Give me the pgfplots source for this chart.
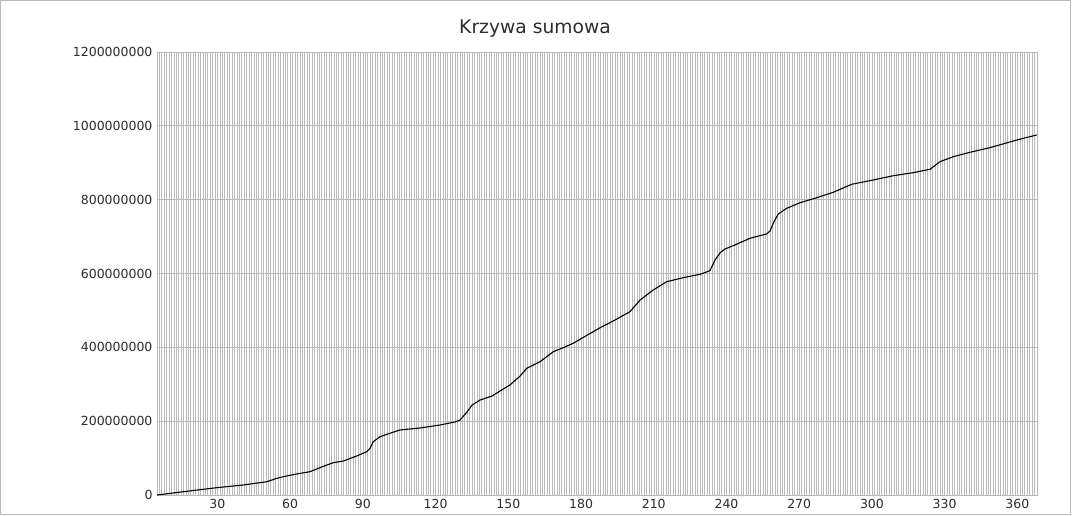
\documentclass[border=0pt]{standalone}
\usepackage{fontspec}
\setmainfont{DejaVu Sans}
\usepackage{pgfplots}
\pgfplotsset{compat=1.18}
\definecolor{gridc}{RGB}{185,185,185}
\definecolor{labc}{RGB}{45,45,45}
\begin{document}
\begin{tikzpicture}[x=1pt,y=1pt]
\useasboundingbox (0,0) rectangle (1072,515);
\draw[gridc, line width=1pt] (0.5,0.5) rectangle (1070,514.5);
\node[font=\fontsize{18.7}{22}\selectfont, text=labc] at (535,486) {Krzywa sumowa};
\begin{axis}[
  at={(157pt,20pt)}, anchor=south west,
  width=880pt, height=443pt, scale only axis,
  xmin=5.5, xmax=368.5, ymin=0, ymax=1200000000,
  xtick={30,60,...,360},
  minor xtick={5.5,6.5,...,368.5},
  ytick={0,200000000,400000000,600000000,800000000,1000000000,1200000000},
  yticklabels={0,200000000,400000000,600000000,800000000,1000000000,1200000000},
  scaled y ticks=false, scaled x ticks=false,
  xminorgrids, ymajorgrids, xmajorgrids=false,
  grid style={gridc, line width=0.9pt},
  minor grid style={gridc, line width=0.9pt},
  axis line style={gridc, line width=0.9pt},
  major tick length=0pt, minor tick length=0pt,
  tick style={draw=none},
  /pgf/number format/assume math mode=true,
  ticklabel style={font=\fontsize{12.5}{15}\selectfont, text=labc},
  yticklabel style={xshift=-1pt},
  xticklabel style={yshift=-1pt, xshift=1pt},
  clip=false,
]
\addplot[black, line width=1.1pt] coordinates {
(5.5,0)
(16.4,8900000)
(30.1,19800000)
(41.1,27100000)
(50.8,36000000)
(54.9,45200000)
(59.0,51500000)
(63.1,56900000)
(68.6,63100000)
(72.7,74000000)
(78.2,87500000)
(82.4,92100000)
(87.9,105700000)
(92.0,117300000)
(93.4,126500000)
(94.7,144400000)
(97.5,157900000)
(101.6,167200000)
(105.7,176100000)
(114.0,181500000)
(122.2,189600000)
(128.4,197800000)
(130.5,203200000)
(133.4,225000000)
(135.5,243800000)
(138.8,257400000)
(143.7,268000000)
(147.0,281700000)
(151.1,298000000)
(155.3,322400000)
(158.0,343200000)
(163.5,361100000)
(169.0,388200000)
(173.1,399100000)
(177.2,411000000)
(181.4,427200000)
(188.3,453200000)
(193.7,471400000)
(200.6,496600000)
(204.8,528300000)
(210.2,555400000)
(215.8,577900000)
(222.6,588700000)
(229.6,597900000)
(233.6,607700000)
(235.7,636600000)
(237.8,656400000)
(239.8,666400000)
(243.9,677300000)
(250.1,695400000)
(257.0,707100000)
(258.4,715200000)
(260.0,740400000)
(261.8,761300000)
(265.3,776700000)
(270.8,791900000)
(277.7,805400000)
(284.5,820100000)
(292.1,841700000)
(301.0,853400000)
(309.3,865000000)
(317.5,873200000)
(324.4,882400000)
(328.5,903000000)
(334.0,916500000)
(340.9,928400000)
(349.1,940900000)
(360.2,961700000)
(368.4,975300000)
};
\end{axis}
\end{tikzpicture}
\end{document}
